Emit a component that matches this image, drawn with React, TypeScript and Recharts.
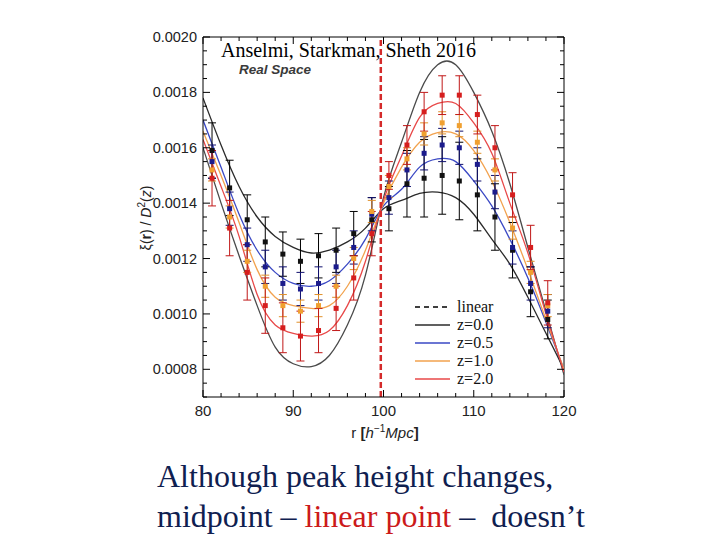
import { ComposedChart, Line, Scatter, ErrorBar, XAxis, YAxis, ReferenceLine } from 'recharts';

// theory curves, sampled every 2 h^-1 Mpc
const rGrid = [80, 82, 84, 86, 88, 90, 92, 94, 96, 98, 100, 102, 104, 106, 108, 110, 112, 114, 116, 118, 120];
const linearCurve = [0.00160, 0.00140, 0.00121, 0.00103, 0.00088, 0.00082, 0.00081, 0.00085, 0.00096, 0.00114, 0.00142, 0.00162, 0.00180, 0.00190, 0.00190, 0.00180, 0.00166, 0.00147, 0.00124, 0.00101, 0.00078];
const z0Curve = [0.00178, 0.00161, 0.00146, 0.00135, 0.00128, 0.00124, 0.00122, 0.00123, 0.00126, 0.00131, 0.00138, 0.00141, 0.001435, 0.00144, 0.00142, 0.00136, 0.00127, 0.00118, 0.00106, 0.00093, 0.00080];
const z05Curve = [0.00170, 0.00153, 0.00136, 0.00123, 0.00115, 0.00111, 0.00110, 0.00112, 0.00118, 0.00127, 0.00139, 0.00145, 0.00153, 0.00156, 0.00155, 0.00148, 0.00139, 0.00127, 0.00113, 0.00097, 0.00080];
const z1Curve = [0.00166, 0.00150, 0.00133, 0.00116, 0.00106, 0.00103, 0.00102, 0.00103, 0.00110, 0.00123, 0.00140, 0.00153, 0.00162, 0.001655, 0.00165, 0.00159, 0.00148, 0.00133, 0.00116, 0.00098, 0.00080];
const z2Curve = [0.00163, 0.00146, 0.00128, 0.00107, 0.00096, 0.00093, 0.00092, 0.00094, 0.00103, 0.00119, 0.00141, 0.00157, 0.00171, 0.00176, 0.00176, 0.00169, 0.00158, 0.00140, 0.00122, 0.00100, 0.00079];

// measured points
const rPts = [81.0, 82.95, 84.9, 86.9, 88.85, 90.8, 92.8, 94.75, 96.7, 98.7, 100.6, 102.6, 104.5, 106.5, 108.4, 110.4, 112.35, 114.3, 116.3, 118.2];
const z0Pts = [0.00159, 0.001455, 0.00134, 0.00126, 0.001216, 0.00119, 0.00121, 0.00123, 0.00129, 0.00134, 0.00138, 0.00147, 0.00149, 0.00150, 0.00148, 0.00143, 0.00135, 0.00123, 0.00108, 0.00098];
const z0Err = [0.00010, 0.00010, 0.00009, 0.00009, 0.00008, 0.00008, 0.00008, 0.00008, 0.00008, 0.00008, 0.00008, 0.00012, 0.00014, 0.00014, 0.00014, 0.00013, 0.00012, 0.00010, 0.00009, 0.00007];
const z05Pts = [0.00155, 0.00138, 0.00125, 0.00117, 0.00111, 0.00109, 0.00111, 0.00117, 0.00124, 0.00136, 0.00142, 0.00152, 0.00158, 0.00161, 0.00160, 0.00154, 0.00144, 0.00124, 0.00111, 0.00101];
const z05Err = [0.00006, 0.00006, 0.00006, 0.00006, 0.00006, 0.00006, 0.00006, 0.00006, 0.00006, 0.00006, 0.00006, 0.00006, 0.00006, 0.00006, 0.00006, 0.00006, 0.00006, 0.00006, 0.00006, 0.00006];
const z1Pts = [0.00152, 0.00135, 0.00119, 0.00110, 0.00103, 0.00101, 0.00103, 0.00110, 0.00120, 0.00137, 0.00146, 0.00156, 0.00165, 0.00169, 0.00168, 0.00162, 0.00152, 0.00131, 0.00115, 0.00103];
const z1Err = [0.00004, 0.00004, 0.00004, 0.00004, 0.00004, 0.00004, 0.00004, 0.00004, 0.00004, 0.00004, 0.00004, 0.00004, 0.00004, 0.00004, 0.00004, 0.00004, 0.00004, 0.00004, 0.00004, 0.00004];
const z2Pts = [0.00149, 0.00131, 0.00115, 0.00103, 0.00095, 0.00092, 0.00094, 0.00102, 0.00113, 0.00129, 0.00150, 0.00161, 0.00173, 0.00179, 0.00179, 0.00172, 0.00160, 0.00143, 0.00124, 0.00104];
const z2Err = [0.00010, 0.00010, 0.00010, 0.00010, 0.00009, 0.00009, 0.00008, 0.00008, 0.00008, 0.00008, 0.00005, 0.00007, 0.00007, 0.00007, 0.00007, 0.00007, 0.00008, 0.00008, 0.00008, 0.00008];

const linearPointR = 99.7;

const xTicks = Array.from({ length: 21 }, (_, i) => 80 + 2 * i);
const yTicks = Array.from({ length: 27 }, (_, i) => +(0.0007 + i * 0.00005).toFixed(5));

const PLOT_W = 361;
const PLOT_H = 360;

const curveData = rGrid.map((r, i) => ({
  r,
  lin: linearCurve[i],
  z0: z0Curve[i],
  z05: z05Curve[i],
  z1: z1Curve[i],
  z2: z2Curve[i],
}));

const pts = (vals: number[], errs: number[]) => rPts.map((r, i) => ({ r, v: vals[i], e: errs[i] }));

const series = [
  { key: 'z0', label: 'z=0.0', line: '#2b2b2b', dot: '#111111', bar: '#000000', pts: pts(z0Pts, z0Err) },
  { key: 'z05', label: 'z=0.5', line: '#3a48c4', dot: '#1b1b8c', bar: '#10106e', pts: pts(z05Pts, z05Err) },
  { key: 'z1', label: 'z=1.0', line: '#f2a24e', dot: '#f0a030', bar: '#e0902a', pts: pts(z1Pts, z1Err) },
  { key: 'z2', label: 'z=2.0', line: '#e84848', dot: '#d61e1e', bar: '#c01818', pts: pts(z2Pts, z2Err) },
];

const XTick = (props: any) => {
  const { x, y, payload } = props;
  const v = payload.value;
  const major = v % 10 === 0;
  const len = major ? 7 : 4;
  return (
    <g>
      <line x1={x} y1={y} x2={x} y2={y - len} stroke="#000" />
      <line x1={x} y1={y - PLOT_H} x2={x} y2={y - PLOT_H + len} stroke="#000" />
      {major && (
        <text x={x} y={y + 19} textAnchor="middle" fontSize={15} fill="#222">{v}</text>
      )}
    </g>
  );
};

const YTick = (props: any) => {
  const { x, y, payload } = props;
  const v = payload.value;
  const major = Math.round(v * 1e5) % 20 === 0;
  const len = major ? 7 : 4;
  return (
    <g>
      <line x1={x} y1={y} x2={x + len} y2={y} stroke="#000" />
      <line x1={x + PLOT_W} y1={y} x2={x + PLOT_W - len} y2={y} stroke="#000" />
      {major && (
        <text x={x - 6} y={y + 5} textAnchor="end" fontSize={14.5} fill="#222">{v.toFixed(4)}</text>
      )}
    </g>
  );
};

const Dot = (color: string) => (props: any) => (
  <rect x={props.cx - 2.5} y={props.cy - 2.5} width={5} height={5} fill={color} />
);

const legendRows = [
  { label: 'linear', color: '#000', dash: '5 4' },
  ...series.map(s => ({ label: s.label, color: s.line, dash: undefined as string | undefined })),
];

export default function App() {
  return (
    <div style={{ position: 'absolute', left: 0, top: 0, width: 720, height: 540, background: '#fff', fontFamily: '"Liberation Sans", Arial, sans-serif' }}>
      <ComposedChart width={720} height={540} margin={{ top: 37, right: 156, left: 143, bottom: 103 }}>
        <XAxis
          type="number"
          dataKey="r"
          domain={[80, 120]}
          ticks={xTicks}
          interval={0}
          tick={XTick}
          tickLine={false}
          tickSize={0}
          tickMargin={0}
          height={40}
          allowDataOverflow
          axisLine={{ stroke: '#000' }}
        />
        <YAxis
          type="number"
          domain={[0.0007, 0.002]}
          ticks={yTicks}
          interval={0}
          tick={YTick}
          tickLine={false}
          tickSize={0}
          tickMargin={0}
          width={60}
          allowDataOverflow
          axisLine={{ stroke: '#000' }}
        />
        <ReferenceLine x={120} stroke="#000" />
        <ReferenceLine y={0.002} stroke="#000" />

        <Line data={curveData} dataKey="lin" type="natural" stroke="#4a4a4a" strokeWidth={1.3} dot={false} isAnimationActive={false} />
        {series.map(s => (
          <Line key={s.key} data={curveData} dataKey={s.key} type="natural" stroke={s.line} strokeWidth={1.3} dot={false} isAnimationActive={false} />
        ))}
        {series.map(s => (
          <Scatter key={s.key + '-pts'} data={s.pts} dataKey="v" shape={Dot(s.dot)} isAnimationActive={false}>
            <ErrorBar dataKey="e" direction="y" width={4} stroke={s.bar} strokeWidth={1} />
          </Scatter>
        ))}

        <ReferenceLine x={linearPointR} stroke="#d42a2a" strokeWidth={2.5} strokeDasharray="6 3" />
      </ComposedChart>

      <div style={{ position: 'absolute', left: 221, top: 40, fontFamily: '"Liberation Serif", "Times New Roman", serif', fontSize: 20, lineHeight: '20px', color: '#000', whiteSpace: 'nowrap' }}>
        Anselmi, Starkman, Sheth 2016
      </div>
      <div style={{ position: 'absolute', left: 239, top: 63, fontSize: 13.5, lineHeight: '14px', fontWeight: 'bold', fontStyle: 'italic', color: '#3a3a3a', whiteSpace: 'nowrap' }}>
        Real Space
      </div>

      <svg style={{ position: 'absolute', left: 410, top: 296 }} width={110} height={95}>
        {legendRows.map((row, i) => (
          <g key={row.label}>
            <line x1={5} x2={40} y1={11 + i * 18} y2={11 + i * 18} stroke={row.color} strokeWidth={1.3} strokeDasharray={row.dash} />
            <text x={47} y={16 + i * 18} fontSize={16} fontFamily='"Liberation Serif", "Times New Roman", serif' fill="#111">{row.label}</text>
          </g>
        ))}
      </svg>

      <div style={{ position: 'absolute', left: 145, top: 218, transform: 'translate(-50%, -50%) rotate(-90deg)', fontSize: 14, whiteSpace: 'nowrap', color: '#222' }}>
        ξ(<b>r</b>) / <i>D</i><sup style={{ fontSize: 10 }}>2</sup>(<i>z</i>)
      </div>
      <div style={{ position: 'absolute', left: 385, top: 432, transform: 'translate(-50%, -50%)', fontSize: 15, whiteSpace: 'nowrap', color: '#222' }}>
        r <b>[</b><i>h</i><sup style={{ fontSize: 10 }}>−1</sup><i>Mpc</i><b>]</b>
      </div>

      <div style={{ position: 'absolute', left: 157, top: 456, fontFamily: '"Liberation Serif", "Times New Roman", serif', fontSize: 32, lineHeight: '40px', color: '#0f2050', whiteSpace: 'pre' }}>
        <div>Although peak height changes,</div>
        <div>midpoint – <span style={{ color: '#cc1a1a' }}>linear point</span> –  doesn’t</div>
      </div>
    </div>
  );
}
